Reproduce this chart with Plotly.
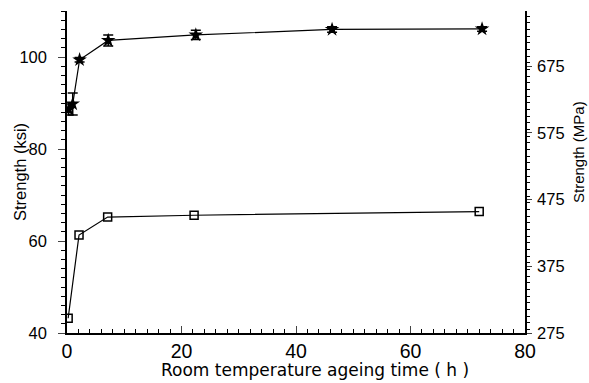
import plotly.graph_objects as go

# Upper series (filled stars, with error bars) - ksi
uts_time = [0.3, 1.0, 2.2, 7.2, 22.5, 46.3, 72.5]
uts_ksi = [88.6, 89.8, 99.4, 103.6, 104.8, 106.0, 106.1]
uts_err = [1.2, 2.4, 0.5, 1.2, 1.0, 0.6, 0.5]

# Lower series (open squares) - ksi
ys_time = [0.2, 2.1, 7.1, 22.2, 72.0]
ys_ksi = [43.2, 61.3, 65.2, 65.6, 66.4]

left_ticks = [40, 60, 80, 100]
right_ticks = [275, 375, 475, 575, 675]
x_ticks = [0, 20, 40, 60, 80]

KSI_TO_MPA = 6.895
y_lo, y_hi = 40, 110

font = "Liberation Sans"
fig = go.Figure()
fig.add_trace(go.Scatter(
    x=uts_time, y=uts_ksi, mode="lines+markers",
    line=dict(color="black", width=1.2),
    marker=dict(symbol="star", size=11, color="black"),
    error_y=dict(type="data", array=uts_err, color="black", thickness=1.5, width=5),
    showlegend=False))
fig.add_trace(go.Scatter(
    x=ys_time, y=ys_ksi, mode="lines+markers",
    line=dict(color="black", width=1.2),
    marker=dict(symbol="square-open", size=8, color="black", line=dict(width=1.5)),
    showlegend=False))
# invisible trace to activate right axis
fig.add_trace(go.Scatter(x=[0], y=[right_ticks[0]], yaxis="y2", mode="markers",
                         marker=dict(opacity=0), showlegend=False, hoverinfo="skip"))

fig.update_layout(
    width=589, height=383,
    margin=dict(l=67, r=64, t=11, b=50),
    plot_bgcolor="white", paper_bgcolor="white",
    font=dict(family=font, color="black", size=15),
    xaxis=dict(range=[0, 80], tickvals=x_ticks, ticks="inside", ticklen=7, tickwidth=1.2,
               showline=True, linecolor="black", linewidth=1.5, showgrid=False, zeroline=False,
               tickfont=dict(size=19.5),
               minor=dict(dtick=2, ticks="inside", ticklen=4, tickcolor="black")),
    yaxis=dict(range=[y_lo, y_hi], tickvals=left_ticks, ticks="outside", ticklen=7, tickwidth=1.2,
               showline=True, linecolor="black", linewidth=1.5, showgrid=False, zeroline=False,
               tickfont=dict(size=16.5), ticklabelstandoff=8,
               minor=dict(dtick=2, ticks="outside", ticklen=4, tickcolor="black")),
    yaxis2=dict(range=[275, 275 + (y_hi - y_lo) * KSI_TO_MPA], tickvals=right_ticks,
                overlaying="y", side="right", ticks="outside", ticklen=5, tickwidth=1.2,
                showline=True, linecolor="black", linewidth=1.5, showgrid=False, zeroline=False,
                tickfont=dict(size=16.5), ticklabelstandoff=2,
                minor=dict(dtick=10, ticks="outside", ticklen=3, tickcolor="black")),
    annotations=[
        dict(text="Room temperature ageing time ( h )", xref="paper", yref="paper",
             x=0.541, y=-0.115, showarrow=False, font=dict(family="DejaVu Sans", size=17),
             xanchor="center", yanchor="middle"),
        dict(text="Strength (ksi)", xref="paper", yref="paper", textangle=-90,
             x=-0.1026, y=0.5, showarrow=False, font=dict(size=16.5),
             xanchor="center", yanchor="middle"),
        dict(text="Strength (MPa)", xref="paper", yref="paper", textangle=-90,
             x=1.1157, y=0.562, showarrow=False, font=dict(size=15),
             xanchor="center", yanchor="middle"),
    ],
)
fig.write_html("out.html", config={"displayModeBar": False},
               post_script="document.body.style.margin='0';document.body.style.padding='0';")
